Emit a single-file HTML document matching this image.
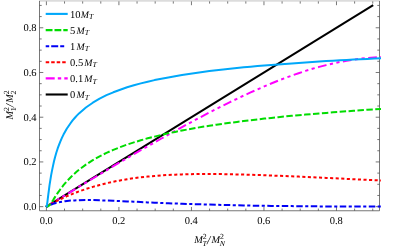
<!DOCTYPE html>
<html><head><meta charset="utf-8"><title>plot</title>
<style>html,body{margin:0;padding:0;background:#fff;}body{width:401px;height:249px;position:relative;overflow:hidden;font-family:"Liberation Serif",serif;}</style>
</head><body>
<svg width="401" height="249" viewBox="0 0 401 249" style="position:absolute;left:0;top:0">
<rect x="0" y="0" width="401" height="249" fill="#fff"/>
<rect x="39" y="0" width="341" height="1" fill="#dcdcdc"/><rect x="39" y="1" width="341" height="1" fill="#e5e5e5"/>
<g stroke="#4a4a4a" stroke-width="0.75" fill="none">
<line x1="39.50" y1="1.00" x2="39.50" y2="210.75"/>
<line x1="379.50" y1="1.00" x2="379.50" y2="210.75"/>
<line x1="39.50" y1="210.75" x2="379.50" y2="210.75"/>
<line x1="46.40" y1="210.75" x2="46.40" y2="206.95"/>
<line x1="46.40" y1="1.40" x2="46.40" y2="5.20"/>
<line x1="39.50" y1="206.65" x2="43.30" y2="206.65"/>
<line x1="379.50" y1="206.65" x2="375.70" y2="206.65"/>
<line x1="64.53" y1="210.75" x2="64.53" y2="208.55"/>
<line x1="64.53" y1="1.40" x2="64.53" y2="3.60"/>
<line x1="39.50" y1="195.47" x2="41.70" y2="195.47"/>
<line x1="379.50" y1="195.47" x2="377.30" y2="195.47"/>
<line x1="82.66" y1="210.75" x2="82.66" y2="208.55"/>
<line x1="82.66" y1="1.40" x2="82.66" y2="3.60"/>
<line x1="39.50" y1="184.29" x2="41.70" y2="184.29"/>
<line x1="379.50" y1="184.29" x2="377.30" y2="184.29"/>
<line x1="100.79" y1="210.75" x2="100.79" y2="208.55"/>
<line x1="100.79" y1="1.40" x2="100.79" y2="3.60"/>
<line x1="39.50" y1="173.11" x2="41.70" y2="173.11"/>
<line x1="379.50" y1="173.11" x2="377.30" y2="173.11"/>
<line x1="118.92" y1="210.75" x2="118.92" y2="206.95"/>
<line x1="118.92" y1="1.40" x2="118.92" y2="5.20"/>
<line x1="39.50" y1="161.93" x2="43.30" y2="161.93"/>
<line x1="379.50" y1="161.93" x2="375.70" y2="161.93"/>
<line x1="137.05" y1="210.75" x2="137.05" y2="208.55"/>
<line x1="137.05" y1="1.40" x2="137.05" y2="3.60"/>
<line x1="39.50" y1="150.75" x2="41.70" y2="150.75"/>
<line x1="379.50" y1="150.75" x2="377.30" y2="150.75"/>
<line x1="155.18" y1="210.75" x2="155.18" y2="208.55"/>
<line x1="155.18" y1="1.40" x2="155.18" y2="3.60"/>
<line x1="39.50" y1="139.57" x2="41.70" y2="139.57"/>
<line x1="379.50" y1="139.57" x2="377.30" y2="139.57"/>
<line x1="173.31" y1="210.75" x2="173.31" y2="208.55"/>
<line x1="173.31" y1="1.40" x2="173.31" y2="3.60"/>
<line x1="39.50" y1="128.39" x2="41.70" y2="128.39"/>
<line x1="379.50" y1="128.39" x2="377.30" y2="128.39"/>
<line x1="191.44" y1="210.75" x2="191.44" y2="206.95"/>
<line x1="191.44" y1="1.40" x2="191.44" y2="5.20"/>
<line x1="39.50" y1="117.21" x2="43.30" y2="117.21"/>
<line x1="379.50" y1="117.21" x2="375.70" y2="117.21"/>
<line x1="209.57" y1="210.75" x2="209.57" y2="208.55"/>
<line x1="209.57" y1="1.40" x2="209.57" y2="3.60"/>
<line x1="39.50" y1="106.03" x2="41.70" y2="106.03"/>
<line x1="379.50" y1="106.03" x2="377.30" y2="106.03"/>
<line x1="227.70" y1="210.75" x2="227.70" y2="208.55"/>
<line x1="227.70" y1="1.40" x2="227.70" y2="3.60"/>
<line x1="39.50" y1="94.85" x2="41.70" y2="94.85"/>
<line x1="379.50" y1="94.85" x2="377.30" y2="94.85"/>
<line x1="245.83" y1="210.75" x2="245.83" y2="208.55"/>
<line x1="245.83" y1="1.40" x2="245.83" y2="3.60"/>
<line x1="39.50" y1="83.67" x2="41.70" y2="83.67"/>
<line x1="379.50" y1="83.67" x2="377.30" y2="83.67"/>
<line x1="263.96" y1="210.75" x2="263.96" y2="206.95"/>
<line x1="263.96" y1="1.40" x2="263.96" y2="5.20"/>
<line x1="39.50" y1="72.49" x2="43.30" y2="72.49"/>
<line x1="379.50" y1="72.49" x2="375.70" y2="72.49"/>
<line x1="282.09" y1="210.75" x2="282.09" y2="208.55"/>
<line x1="282.09" y1="1.40" x2="282.09" y2="3.60"/>
<line x1="39.50" y1="61.31" x2="41.70" y2="61.31"/>
<line x1="379.50" y1="61.31" x2="377.30" y2="61.31"/>
<line x1="300.22" y1="210.75" x2="300.22" y2="208.55"/>
<line x1="300.22" y1="1.40" x2="300.22" y2="3.60"/>
<line x1="39.50" y1="50.13" x2="41.70" y2="50.13"/>
<line x1="379.50" y1="50.13" x2="377.30" y2="50.13"/>
<line x1="318.35" y1="210.75" x2="318.35" y2="208.55"/>
<line x1="318.35" y1="1.40" x2="318.35" y2="3.60"/>
<line x1="39.50" y1="38.95" x2="41.70" y2="38.95"/>
<line x1="379.50" y1="38.95" x2="377.30" y2="38.95"/>
<line x1="336.48" y1="210.75" x2="336.48" y2="206.95"/>
<line x1="336.48" y1="1.40" x2="336.48" y2="5.20"/>
<line x1="39.50" y1="27.77" x2="43.30" y2="27.77"/>
<line x1="379.50" y1="27.77" x2="375.70" y2="27.77"/>
<line x1="354.61" y1="210.75" x2="354.61" y2="208.55"/>
<line x1="354.61" y1="1.40" x2="354.61" y2="3.60"/>
<line x1="39.50" y1="16.59" x2="41.70" y2="16.59"/>
<line x1="379.50" y1="16.59" x2="377.30" y2="16.59"/>
<line x1="372.74" y1="210.75" x2="372.74" y2="208.55"/>
<line x1="372.74" y1="1.40" x2="372.74" y2="3.60"/>
<line x1="39.50" y1="5.41" x2="41.70" y2="5.41"/>
<line x1="379.50" y1="5.41" x2="377.30" y2="5.41"/>
</g>
<g fill="none" stroke-width="2.0" stroke-linejoin="round">
<path d="M46.0,206.9 L373.2,5.1" stroke="#000000"/>
<path d="M46.4,206.7 L46.4,206.6 L46.6,206.6 L46.7,206.4 L47.0,206.3 L47.4,206.1 L47.8,205.8 L48.3,205.5 L48.9,205.1 L49.5,204.7 L50.3,204.3 L51.1,203.8 L52.0,203.2 L53.0,202.6 L54.0,202.0 L55.1,201.3 L56.3,200.6 L57.6,199.8 L59.0,198.9 L60.4,198.1 L61.9,197.1 L63.5,196.2 L65.2,195.2 L66.9,194.1 L68.8,193.0 L70.7,191.8 L72.6,190.6 L74.7,189.4 L76.8,188.1 L79.0,186.7 L85.9,182.6 L92.8,178.5 L99.6,174.4 L106.5,170.3 L113.3,166.2 L120.2,162.2 L127.1,158.2 L133.9,154.2 L140.8,150.2 L147.7,146.3 L154.5,142.4 L161.4,138.5 L168.3,134.7 L175.1,130.9 L182.0,127.1 L188.8,123.4 L195.7,119.7 L202.6,116.1 L209.4,112.5 L216.3,109.0 L223.2,105.5 L230.0,102.1 L236.9,98.8 L243.7,95.6 L250.6,92.4 L257.5,89.4 L264.3,86.4 L271.2,83.5 L278.1,80.7 L284.9,78.1 L291.8,75.6 L298.6,73.2 L305.5,70.9 L312.4,68.8 L319.2,66.9 L326.1,65.1 L333.0,63.5 L339.8,62.0 L346.7,60.7 L353.5,59.6 L360.4,58.7 L367.3,58.0 L374.1,57.4 L381.0,57.0" stroke="#ff00ff" stroke-dasharray="8.7 3.48 3.2 3.48 3.2 3.47" stroke-dashoffset="0.0"/>
<path d="M46.4,206.7 L46.4,206.6 L46.6,206.6 L46.7,206.4 L47.0,206.3 L47.4,206.1 L47.8,205.8 L48.3,205.5 L48.9,205.2 L49.5,204.8 L50.3,204.4 L51.1,204.0 L52.0,203.5 L53.0,203.0 L54.0,202.4 L55.1,201.8 L56.3,201.2 L57.6,200.6 L59.0,199.9 L60.4,199.2 L61.9,198.5 L63.5,197.8 L65.2,197.0 L66.9,196.2 L68.8,195.4 L70.7,194.7 L72.6,193.8 L74.7,193.0 L76.8,192.2 L79.0,191.4 L85.9,189.0 L92.8,186.9 L99.6,185.0 L106.5,183.2 L113.3,181.7 L120.2,180.4 L127.1,179.2 L133.9,178.2 L140.8,177.3 L147.7,176.6 L154.5,176.0 L161.4,175.4 L168.3,175.0 L175.1,174.7 L182.0,174.4 L188.8,174.2 L195.7,174.1 L202.6,174.0 L209.4,174.0 L216.3,174.1 L223.2,174.1 L230.0,174.3 L236.9,174.4 L243.7,174.6 L250.6,174.8 L257.5,175.0 L264.3,175.2 L271.2,175.5 L278.1,175.8 L284.9,176.0 L291.8,176.3 L298.6,176.6 L305.5,176.9 L312.4,177.3 L319.2,177.6 L326.1,177.9 L333.0,178.2 L339.8,178.5 L346.7,178.9 L353.5,179.2 L360.4,179.5 L367.3,179.9 L374.1,180.2 L381.0,180.5" stroke="#ff0000" stroke-dasharray="3.1 2.47" stroke-dashoffset="0.4"/>
<path d="M46.4,206.7 L46.4,206.6 L46.6,206.6 L46.7,206.4 L47.0,206.3 L47.4,206.1 L47.8,205.9 L48.3,205.7 L48.9,205.4 L49.5,205.1 L50.3,204.8 L51.1,204.5 L52.0,204.2 L53.0,203.9 L54.0,203.5 L55.1,203.2 L56.3,202.9 L57.6,202.6 L59.0,202.3 L60.4,202.0 L61.9,201.7 L63.5,201.5 L65.2,201.2 L66.9,201.0 L68.8,200.8 L70.7,200.6 L72.6,200.5 L74.7,200.4 L76.8,200.3 L79.0,200.2 L85.9,200.1 L92.8,200.1 L99.6,200.3 L106.5,200.5 L113.3,200.8 L120.2,201.1 L127.1,201.4 L133.9,201.7 L140.8,202.1 L147.7,202.4 L154.5,202.7 L161.4,203.0 L168.3,203.3 L175.1,203.5 L182.0,203.8 L188.8,204.0 L195.7,204.2 L202.6,204.4 L209.4,204.6 L216.3,204.8 L223.2,205.0 L230.0,205.1 L236.9,205.3 L243.7,205.4 L250.6,205.6 L257.5,205.7 L264.3,205.8 L271.2,205.9 L278.1,206.0 L284.9,206.1 L291.8,206.1 L298.6,206.2 L305.5,206.3 L312.4,206.3 L319.2,206.4 L326.1,206.4 L333.0,206.5 L339.8,206.5 L346.7,206.5 L353.5,206.6 L360.4,206.6 L367.3,206.6 L374.1,206.6 L381.0,206.6" stroke="#0000f5" stroke-dasharray="3.1 2.47 6.46 2.47" stroke-dashoffset="1.0"/>
<path d="M46.4,206.7 L46.4,206.6 L46.6,206.6 L46.7,206.6 L47.0,206.6 L47.4,206.6 L47.8,206.5 L48.3,206.2 L48.9,205.7 L49.5,205.0 L50.3,204.1 L51.1,203.0 L52.0,201.7 L53.0,200.2 L54.0,198.6 L55.1,196.9 L56.3,195.0 L57.6,193.1 L59.0,191.2 L60.4,189.2 L61.9,187.2 L63.5,185.2 L65.2,183.2 L66.9,181.2 L68.8,179.2 L70.7,177.3 L72.6,175.3 L74.7,173.4 L76.8,171.5 L79.0,169.7 L85.9,164.6 L92.8,160.2 L99.6,156.3 L106.5,152.9 L113.3,149.9 L120.2,147.1 L127.1,144.6 L133.9,142.4 L140.8,140.3 L147.7,138.3 L154.5,136.6 L161.4,134.9 L168.3,133.3 L175.1,131.9 L182.0,130.5 L188.8,129.2 L195.7,128.0 L202.6,126.8 L209.4,125.8 L216.3,124.7 L223.2,123.7 L230.0,122.8 L236.9,121.9 L243.7,121.0 L250.6,120.2 L257.5,119.4 L264.3,118.6 L271.2,117.9 L278.1,117.2 L284.9,116.5 L291.8,115.8 L298.6,115.2 L305.5,114.6 L312.4,114.0 L319.2,113.4 L326.1,112.9 L333.0,112.3 L339.8,111.8 L346.7,111.3 L353.5,110.8 L360.4,110.3 L367.3,109.8 L374.1,109.4 L381.0,109.0" stroke="#00dc00" stroke-dasharray="6.46 2.46" stroke-dashoffset="1.0"/>
<path d="M46.4,206.7 L46.4,206.6 L46.6,206.6 L46.7,206.0 L47.0,204.5 L47.4,202.1 L47.8,198.7 L48.3,194.6 L48.9,190.1 L49.5,185.3 L50.3,180.4 L51.1,175.4 L52.0,170.6 L53.0,165.9 L54.0,161.3 L55.1,156.9 L56.3,152.7 L57.6,148.7 L59.0,144.9 L60.4,141.3 L61.9,137.9 L63.5,134.6 L65.2,131.5 L66.9,128.5 L68.8,125.7 L70.7,123.0 L72.6,120.4 L74.7,118.0 L76.8,115.6 L79.0,113.4 L85.9,107.5 L92.8,102.7 L99.6,98.6 L106.5,95.2 L113.3,92.3 L120.2,89.7 L127.1,87.3 L133.9,85.3 L140.8,83.4 L147.7,81.7 L154.5,80.1 L161.4,78.7 L168.3,77.4 L175.1,76.2 L182.0,75.0 L188.8,74.0 L195.7,73.0 L202.6,72.0 L209.4,71.1 L216.3,70.3 L223.2,69.5 L230.0,68.7 L236.9,68.0 L243.7,67.3 L250.6,66.7 L257.5,66.1 L264.3,65.5 L271.2,64.9 L278.1,64.4 L284.9,63.9 L291.8,63.4 L298.6,62.9 L305.5,62.4 L312.4,62.0 L319.2,61.5 L326.1,61.1 L333.0,60.7 L339.8,60.3 L346.7,59.9 L353.5,59.6 L360.4,59.2 L367.3,58.9 L374.1,58.5 L381.0,58.2" stroke="#00a8fa"/>
</g>
<g fill="none" stroke-width="2.1">
<line x1="45.7" y1="13.9" x2="67.7" y2="13.9" stroke="#00a8fa"/>
<line x1="45.7" y1="30.1" x2="67.7" y2="30.1" stroke="#00dc00" stroke-dasharray="6.8 2"/>
<path d="M45.7,46.3 h3.5 m2,0 h7 m2,0 h4" stroke="#0000f5"/>
<line x1="45.7" y1="62.3" x2="66.1" y2="62.3" stroke="#ff0000" stroke-dasharray="3.5 2"/>
<line x1="45.7" y1="78.4" x2="67.7" y2="78.4" stroke="#ff00ff" stroke-dasharray="9 3.1 3.4 3.1 3.4 3.1"/>
<line x1="45.7" y1="94.5" x2="67.7" y2="94.5" stroke="#000"/>
</g>
<g font-family="'Liberation Serif', serif" font-size="10px" fill="#000" style="text-rendering:geometricPrecision;filter:grayscale(1)">
<text x="70.00" y="17.50" font-size="10.50px">10</text>
<text x="80.80" y="17.50" font-size="9.80px" font-style="italic">M</text>
<text x="89.06" y="19.00" font-size="7.80px" font-style="italic">T</text>
<text x="70.00" y="33.70" font-size="10.50px">5</text>
<text x="76.45" y="33.70" font-size="9.80px" font-style="italic">M</text>
<text x="84.71" y="35.20" font-size="7.80px" font-style="italic">T</text>
<text x="70.00" y="49.90" font-size="10.50px">1</text>
<text x="76.45" y="49.90" font-size="9.80px" font-style="italic">M</text>
<text x="84.71" y="51.40" font-size="7.80px" font-style="italic">T</text>
<text x="70.00" y="65.90" font-size="10.50px">0.5</text>
<text x="84.33" y="65.90" font-size="9.80px" font-style="italic">M</text>
<text x="92.59" y="67.40" font-size="7.80px" font-style="italic">T</text>
<text x="70.00" y="82.00" font-size="10.50px">0.1</text>
<text x="84.33" y="82.00" font-size="9.80px" font-style="italic">M</text>
<text x="92.59" y="83.50" font-size="7.80px" font-style="italic">T</text>
<text x="70.00" y="98.10" font-size="10.50px">0</text>
<text x="76.45" y="98.10" font-size="9.80px" font-style="italic">M</text>
<text x="84.71" y="99.60" font-size="7.80px" font-style="italic">T</text>
<text x="46.20" y="223.50" font-size="10.50px" text-anchor="middle">0.0</text>
<text x="36.60" y="210.05" font-size="10.50px" text-anchor="end">0.0</text>
<text x="118.72" y="223.50" font-size="10.50px" text-anchor="middle">0.2</text>
<text x="36.60" y="165.33" font-size="10.50px" text-anchor="end">0.2</text>
<text x="191.24" y="223.50" font-size="10.50px" text-anchor="middle">0.4</text>
<text x="36.60" y="120.61" font-size="10.50px" text-anchor="end">0.4</text>
<text x="263.76" y="223.50" font-size="10.50px" text-anchor="middle">0.6</text>
<text x="36.60" y="75.89" font-size="10.50px" text-anchor="end">0.6</text>
<text x="336.28" y="223.50" font-size="10.50px" text-anchor="middle">0.8</text>
<text x="36.60" y="31.17" font-size="10.50px" text-anchor="end">0.8</text>
<text x="194.20" y="243.40" font-size="10.30px" font-style="italic">M</text>
<text x="202.78" y="239.20" font-size="7.80px">2</text>
<text x="202.48" y="246.00" font-size="7.80px" font-style="italic">T</text>
<text x="206.92" y="244.00" font-size="12.00px" font-style="italic">/</text>
<text x="211.44" y="243.40" font-size="10.30px" font-style="italic">M</text>
<text x="220.02" y="239.20" font-size="7.80px">2</text>
<text x="219.72" y="246.00" font-size="7.80px" font-style="italic">N</text>
<g transform="translate(13.2,119.6) rotate(-90)">
<text x="0.00" y="0.00" font-size="10.30px" font-style="italic">M</text>
<text x="8.58" y="-4.20" font-size="7.80px">2</text>
<text x="8.28" y="2.60" font-size="7.80px">1</text>
<text x="12.28" y="0.60" font-size="12.00px" font-style="italic">/</text>
<text x="16.80" y="0.00" font-size="10.30px" font-style="italic">M</text>
<text x="25.38" y="-4.20" font-size="7.80px">2</text>
<text x="25.08" y="2.60" font-size="7.80px">2</text>
</g>
</g>
</svg>
</body></html>
